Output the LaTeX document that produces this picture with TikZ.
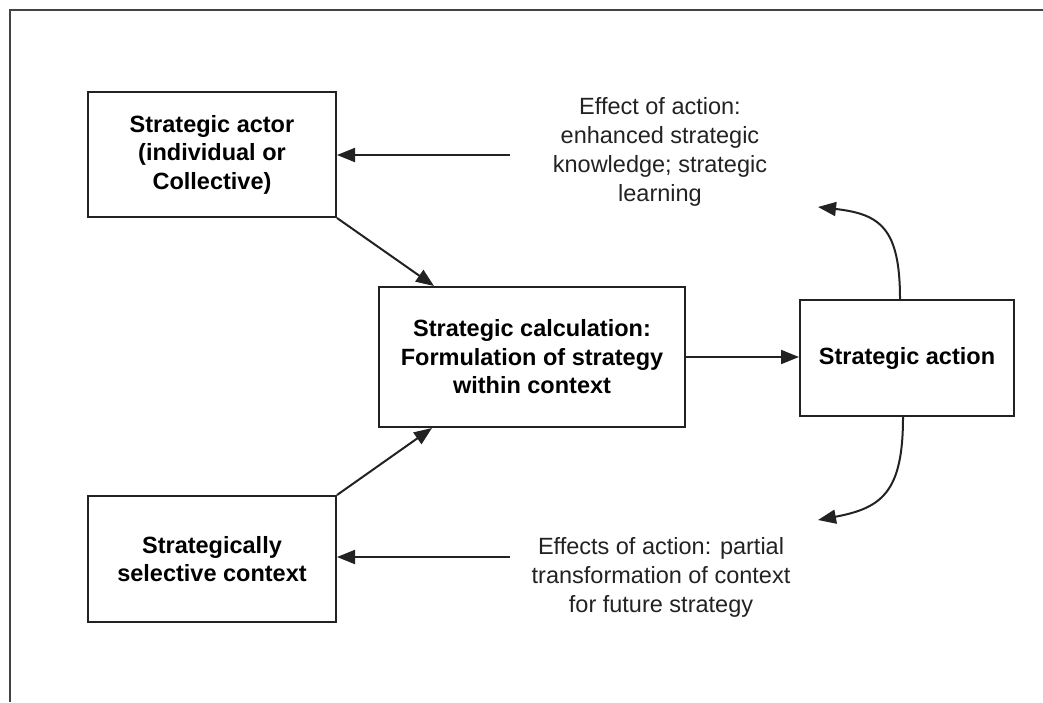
\documentclass[tikz,border=0pt]{standalone}
\usepackage{fontspec}
\setmainfont{Liberation Sans}
\usetikzlibrary{arrows.meta}
\definecolor{ink}{HTML}{222222}
\begin{document}
\begin{tikzpicture}[x=1pt,y=-1pt,
  line width=2pt, draw=ink,
  box/.style={draw=ink, line width=2pt, align=center, inner sep=0pt,
    font=\fontsize{23.5}{28.5}\selectfont\bfseries},
  note/.style={align=center, inner sep=0pt, text=ink,
    font=\fontsize{23.5}{29}\selectfont},
  arr/.style={-{Triangle[length=18pt,width=14pt]}, ink, line width=2pt}]
\useasboundingbox (0,0) rectangle (1043,702);
% frame edges
\draw[ink!85, line width=2.2pt] (10,702) -- (10,10) -- (1043,10);

% boxes
\node[box, minimum width=248pt, minimum height=125pt] (actor) at (212,154.5)
  {Strategic actor\\(individual or\\Collective)};
\node[box, minimum width=306pt, minimum height=140pt] (calc) at (532,357)
  {Strategic calculation:\\Formulation of strategy\\within context};
\node[box, minimum width=214pt, minimum height=116pt] (action) at (907,358)
  {Strategic action};
\node[box, minimum width=248pt, minimum height=126pt] (context) at (212,559)
  {Strategically\\selective context};

% effect labels
\node[note] (learn) at (660,152)
  {Effect of action:\\enhanced strategic\\knowledge; strategic\\learning};
\node[note] (transf) at (661,577)
  {Effects of action: partial\\transformation of context\\for future strategy};

% connector ends
\coordinate (learnL) at (510,155);
\coordinate (transfL) at (510,557);
\coordinate (upTip) at (818,207);
\coordinate (downTip) at (818,520);

% connectors
\draw[arr] (learnL) -- (actor.east |- learnL);
\draw[arr] (transfL) -- (context.east |- transfL);
\draw[arr] (actor.south east) -- (calc.north west -| 434,0);
\draw[arr] (context.north east) -- (calc.south west -| 432,0);
\draw[arr] (calc.east) -- (action.west |- calc.east);
\draw[arr] (action.north -| 900,0) .. controls (900,228) and (880,214) .. (upTip);
\draw[arr] (action.south -| 903,0) .. controls (903,492) and (882,508) .. (downTip);
\end{tikzpicture}
\end{document}
